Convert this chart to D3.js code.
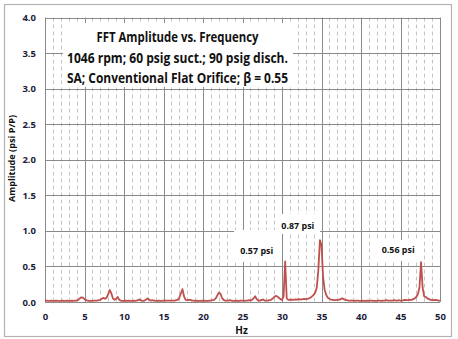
<!DOCTYPE html>
<html>
<head>
<meta charset="utf-8">
<script src="https://cdn.jsdelivr.net/npm/d3@7"></script>
<style>
  html, body { margin: 0; padding: 0; background: #fff; }
  svg { display: block; }
  text { font-family: "Open Sans", "Noto Sans", sans-serif; font-weight: 700; }
</style>
</head>
<body>
<svg id="chart" width="458" height="339"></svg>
<script>
// ---------------- DATA ----------------
const freqStart = 0;      // Hz
const freqStep = 0.2;     // Hz (FFT bin spacing)
// FFT amplitude (psi P/P), one value per bin, 0.0 .. 50.0 Hz, 10 bins (2 Hz) per row
const amplitude = [
  0.020,0.020,0.015,0.015,0.020,0.015,0.015,0.020,0.015,0.015, //  0
  0.015,0.020,0.015,0.015,0.020,0.015,0.015,0.020,0.015,0.020, //  2
  0.020,0.030,0.050,0.066,0.060,0.040,0.025,0.020,0.015,0.015, //  4
  0.015,0.020,0.020,0.020,0.025,0.030,0.045,0.058,0.045,0.060, //  6
  0.110,0.168,0.120,0.050,0.030,0.045,0.070,0.030,0.020,0.015, //  8
  0.015,0.020,0.015,0.020,0.015,0.015,0.020,0.015,0.020,0.030, // 10
  0.035,0.020,0.015,0.020,0.035,0.050,0.030,0.020,0.025,0.020, // 12
  0.015,0.015,0.020,0.015,0.015,0.020,0.020,0.020,0.020,0.020, // 14
  0.020,0.020,0.020,0.025,0.030,0.060,0.120,0.180,0.080,0.030, // 16
  0.025,0.030,0.030,0.020,0.020,0.015,0.020,0.015,0.015,0.020, // 18
  0.015,0.020,0.015,0.015,0.020,0.020,0.025,0.030,0.050,0.090, // 20
  0.130,0.120,0.060,0.030,0.020,0.020,0.020,0.025,0.020,0.015, // 22
  0.015,0.020,0.015,0.015,0.020,0.020,0.015,0.020,0.020,0.025, // 24
  0.020,0.030,0.050,0.080,0.040,0.020,0.020,0.030,0.035,0.020, // 26
  0.020,0.020,0.025,0.030,0.045,0.070,0.085,0.080,0.060,0.040, // 28
  0.030,0.080,0.570,0.050,0.030,0.030,0.035,0.030,0.035,0.035, // 30
  0.035,0.040,0.035,0.040,0.045,0.040,0.045,0.050,0.060,0.080, // 32
  0.100,0.130,0.200,0.450,0.870,0.800,0.350,0.170,0.100,0.060, // 34
  0.045,0.035,0.030,0.025,0.025,0.030,0.030,0.040,0.050,0.040, // 36
  0.030,0.025,0.020,0.020,0.020,0.020,0.015,0.020,0.020,0.015, // 38
  0.015,0.020,0.015,0.015,0.020,0.015,0.020,0.020,0.015,0.015, // 40
  0.015,0.020,0.020,0.015,0.020,0.020,0.025,0.020,0.020,0.020, // 42
  0.020,0.025,0.020,0.020,0.025,0.020,0.020,0.025,0.030,0.025, // 44
  0.025,0.030,0.030,0.040,0.050,0.070,0.110,0.200,0.560,0.200, // 46
  0.080,0.070,0.050,0.040,0.030,0.030,0.025,0.030,0.025,0.020, // 48
  0.020                                                         // 50
];
const xTicks = [0, 5, 10, 15, 20, 25, 30, 35, 40, 45, 50];
const yTicks = [0.0, 0.5, 1.0, 1.5, 2.0, 2.5, 3.0, 3.5, 4.0];
const xMinorTicks = d3.range(0, 51, 1).filter(v => v % 5 !== 0);
const titleLines = [
  "FFT Amplitude vs. Frequency",
  "1046 rpm; 60 psig suct.; 90 psig disch.",
  "SA; Conventional Flat Orifice; \u03B2 = 0.55"
];
const xAxisTitle = "Hz";
const yAxisTitle = "Amplitude (psi P/P)";
const annotText = ["0.57 psi", "0.87 psi", "0.56 psi"];
const annotHz   = [26.8, 32.0, 44.7];   // label centre, data units
const annotAmp  = [0.72, 1.08, 0.735];

// ---------------- DRAW ----------------
const svg = d3.select("#chart");
const x = d3.scaleLinear().domain([0, 50]).range([45, 440]);
const y = d3.scaleLinear().domain([0, 4]).range([302, 17.5]);
const data = amplitude.map((a, i) => ({ f: freqStart + i * freqStep, a }));

// outer chart frame
svg.append("rect")
  .attr("x", 4.5).attr("y", 4.5).attr("width", 447).attr("height", 332)
  .attr("fill", "#fff").attr("stroke", "#b3b3b3").attr("stroke-width", 1.2);

// minor vertical dashed gridlines
svg.append("g").selectAll("line").data(xMinorTicks).join("line")
  .attr("x1", d => Math.round(x(d)) + 0.5).attr("x2", d => Math.round(x(d)) + 0.5)
  .attr("y1", y(4)).attr("y2", y(0))
  .attr("stroke", "#c4c4c4").attr("stroke-width", 1).attr("stroke-dasharray", "4,3");

// major gridlines
svg.append("g").selectAll("line").data(yTicks).join("line")
  .attr("x1", x(0)).attr("x2", x(50))
  .attr("y1", d => Math.round(y(d)) + 0.5).attr("y2", d => Math.round(y(d)) + 0.5)
  .attr("stroke", "#8a8a8a").attr("stroke-width", 1);
svg.append("g").selectAll("line").data(xTicks).join("line")
  .attr("x1", d => Math.round(x(d)) + 0.5).attr("x2", d => Math.round(x(d)) + 0.5)
  .attr("y1", y(4)).attr("y2", y(0))
  .attr("stroke", "#8a8a8a").attr("stroke-width", 1);

// axes (tick labels via d3 axes)
const tickColor = "#1c1c3a";
const xAxis = svg.append("g").attr("transform", `translate(0,${y(0)})`)
  .call(d3.axisBottom(x).tickValues(xTicks).tickFormat(d3.format("d")).tickSize(0).tickPadding(11));
const yAxis = svg.append("g").attr("transform", `translate(${x(0)},0)`)
  .call(d3.axisLeft(y).tickValues(yTicks).tickFormat(d3.format(".1f")).tickSize(0).tickPadding(9));
[xAxis, yAxis].forEach(g => {
  g.select(".domain").remove();
  g.selectAll("text").attr("fill", tickColor).style("font-size", "9.5px").style("font-weight", 700)
    .style("font-family", "'Open Sans', sans-serif");
});

// data line
svg.append("path").datum(data)
  .attr("d", d3.line().x(d => x(d.f)).y(d => y(d.a)))
  .attr("fill", "none").attr("stroke", "#c0504d").attr("stroke-width", 1.8)
  .attr("stroke-linejoin", "round");

// title box
svg.append("rect").attr("x", 63).attr("y", 23).attr("width", 230).attr("height", 64).attr("fill", "#fff");
const titleWidths = [162, 221, 221];
const titleBase = [42, 62.5, 82.5];
titleLines.forEach((t, i) => {
  svg.append("text").attr("x", 177.5).attr("y", titleBase[i]).attr("text-anchor", "middle")
    .attr("fill", "#111").style("font-size", "13.5px").style("font-weight", 700)
    .attr("textLength", titleWidths[i]).attr("lengthAdjust", "spacingAndGlyphs")
    .text(t);
});

// annotations with white boxes
const annotBoxes = [[234, 230, 44, 32], [276, 214, 44, 20], [376, 240, 44, 21]];
annotText.forEach((t, i) => {
  const b = annotBoxes[i];
  svg.append("rect").attr("x", b[0]).attr("y", b[1]).attr("width", b[2]).attr("height", b[3]).attr("fill", "#fff");
  svg.append("text").attr("x", x(annotHz[i])).attr("y", y(annotAmp[i]) + 3.5)
    .attr("text-anchor", "middle").attr("fill", "#111").style("font-size", "9.5px")
    .attr("textLength", 33).attr("lengthAdjust", "spacingAndGlyphs")
    .text(t);
});

// axis titles
svg.append("text").attr("x", 241.5).attr("y", 334).attr("text-anchor", "middle")
  .attr("fill", "#111").style("font-size", "10px").text(xAxisTitle);
svg.append("text").attr("transform", "translate(14.5,158.5) rotate(-90)")
  .attr("text-anchor", "middle").attr("fill", "#111").style("font-size", "9.5px")
  .attr("textLength", 87).attr("lengthAdjust", "spacingAndGlyphs")
  .text(yAxisTitle);
</script>
</body>
</html>
